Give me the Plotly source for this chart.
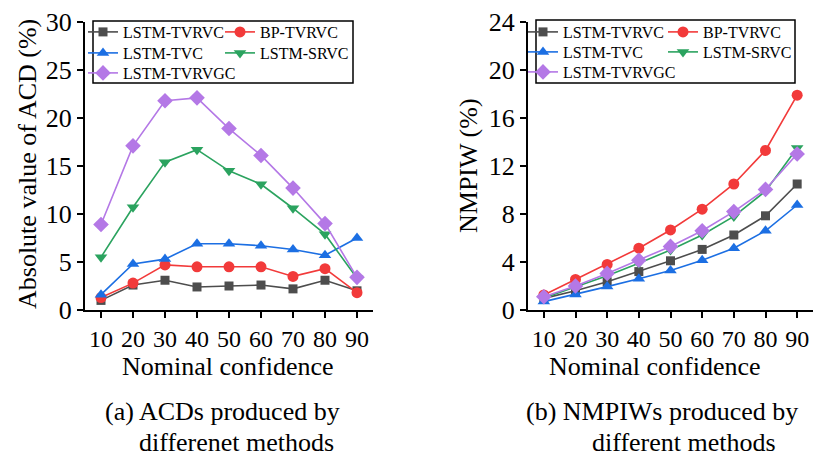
import plotly.graph_objects as go

# ---------------- data ----------------
conf = [10, 20, 30, 40, 50, 60, 70, 80, 90]
names = ["LSTM-TVRVC", "BP-TVRVC", "LSTM-TVC", "LSTM-SRVC", "LSTM-TVRVGC"]

acd_lstm_tvrvc = [1.0, 2.6, 3.1, 2.4, 2.5, 2.6, 2.2, 3.1, 2.0]
acd_bp_tvrvc = [1.3, 2.8, 4.7, 4.5, 4.5, 4.5, 3.5, 4.3, 1.8]
acd_lstm_tvc = [1.6, 4.8, 5.3, 6.9, 6.9, 6.7, 6.3, 5.7, 7.5]
acd_lstm_srvc = [5.5, 10.7, 15.4, 16.7, 14.5, 13.1, 10.6, 7.9, 3.3]
acd_lstm_tvrvgc = [8.9, 17.1, 21.8, 22.1, 18.9, 16.1, 12.7, 9.0, 3.4]

nmpiw_lstm_tvrvc = [0.97, 1.6, 2.35, 3.2, 4.1, 5.05, 6.25, 7.85, 10.5]
nmpiw_bp_tvrvc = [1.25, 2.55, 3.8, 5.15, 6.67, 8.4, 10.5, 13.3, 17.9]
nmpiw_lstm_tvc = [0.7, 1.3, 1.95, 2.6, 3.3, 4.15, 5.15, 6.6, 8.75]
nmpiw_lstm_srvc = [1.0, 1.95, 2.85, 3.9, 5.0, 6.25, 7.8, 9.9, 13.5]
nmpiw_lstm_tvrvgc = [1.1, 2.0, 3.05, 4.15, 5.3, 6.6, 8.2, 10.05, 13.0]

acd_ticks = [0, 5, 10, 15, 20, 25, 30]
nmpiw_ticks = [0, 4, 8, 12, 16, 20, 24]

# ---------------- styles ----------------
colors = ["#4d4d4d", "#f23a3a", "#1c6fe3", "#2ba35f", "#b478e6"]
symbols = ["square", "circle", "triangle-up", "triangle-down", "diamond"]
sizes = [9, 11, 11, 11, 12]
FONT = "Liberation Serif"

W, H = 813, 457
T, B = 22, 147
PH = H - T - B


def px(x):
    return x / W


def py(y):
    return (H - B - y) / PH


# legend slot of each series: (column, row)
slots = [(0, 0), (1, 0), (0, 1), (1, 1), (0, 2)]
left_cols = [83, 220]
right_cols = [523, 663]
rows_left = [32, 53, 73]
rows_right = [32, 52, 72]

fig = go.Figure()

acd_sets = [acd_lstm_tvrvc, acd_bp_tvrvc, acd_lstm_tvc, acd_lstm_srvc, acd_lstm_tvrvgc]
nmpiw_sets = [nmpiw_lstm_tvrvc, nmpiw_bp_tvrvc, nmpiw_lstm_tvc, nmpiw_lstm_srvc, nmpiw_lstm_tvrvgc]

leg_common = dict(bgcolor="rgba(0,0,0,0)", borderwidth=0, font=dict(size=16, family=FONT),
                  xanchor="left", yanchor="middle", orientation="v", tracegroupgap=0)
legends = {}

for i, nm in enumerate(names):
    lname = "legend" if i == 0 else f"legend{i + 1}"
    c, r = slots[i]
    legends[lname] = dict(x=px(left_cols[c]), y=py(rows_left[r]), **leg_common)
    fig.add_trace(go.Scatter(
        x=conf, y=acd_sets[i], name=nm, mode="lines+markers",
        line=dict(color=colors[i], width=1.6),
        marker=dict(symbol=symbols[i], size=sizes[i], color=colors[i], line=dict(width=0)),
        xaxis="x", yaxis="y", legend=lname))
for i, nm in enumerate(names):
    lname = f"legend{i + 6}"
    c, r = slots[i]
    legends[lname] = dict(x=px(right_cols[c]), y=py(rows_right[r]), **leg_common)
    fig.add_trace(go.Scatter(
        x=conf, y=nmpiw_sets[i], name=nm, mode="lines+markers",
        line=dict(color=colors[i], width=1.6),
        marker=dict(symbol=symbols[i], size=sizes[i], color=colors[i], line=dict(width=0)),
        xaxis="x2", yaxis="y2", legend=lname))

axis_common = dict(showline=True, linecolor="black", linewidth=2, ticks="outside",
                   ticklen=6, tickwidth=2, tickcolor="black", showgrid=False,
                   zeroline=False, mirror=False)

fig.update_layout(
    width=W, height=H,
    margin=dict(l=0, r=0, t=T, b=B),
    paper_bgcolor="white", plot_bgcolor="white",
    font=dict(family=FONT, color="black"),
    xaxis=dict(domain=[px(85), px(373)], range=[5, 95], tickvals=conf,
               tickfont=dict(size=24), anchor="y", **axis_common),
    yaxis=dict(domain=[0, 1], range=[0, 30], tickvals=acd_ticks,
               tickfont=dict(size=26), anchor="x", **axis_common),
    xaxis2=dict(domain=[px(528), 1], range=[5, 95], tickvals=conf,
                tickfont=dict(size=24), anchor="y2", **axis_common),
    yaxis2=dict(domain=[0, 1], range=[0, 24], tickvals=nmpiw_ticks,
                tickfont=dict(size=26), anchor="x2", **axis_common),
    showlegend=True,
    **legends,
)

# legend frames
fig.add_shape(type="rect", xref="paper", yref="paper", x0=px(93), x1=px(353),
              y0=py(83), y1=py(21), line=dict(color="black", width=1.5))
fig.add_shape(type="rect", xref="paper", yref="paper", x0=px(536), x1=px(795),
              y0=py(83), y1=py(20), line=dict(color="black", width=1.5))

ann = [
    dict(text="Absolute value of ACD (%)", x=px(27), y=py(164), textangle=-90, size=26),
    dict(text="NMPIW (%)", x=px(468), y=py(166), textangle=-90, size=26),
    dict(text="Nominal confidence", x=px(228), y=py(366), textangle=0, size=26),
    dict(text="Nominal confidence", x=px(655), y=py(366), textangle=0, size=26),
    dict(text="(a) ACDs produced by", x=px(222), y=py(411), textangle=0, size=26),
    dict(text="differenet methods", x=px(236), y=py(442), textangle=0, size=26),
    dict(text="(b) NMPIWs produced by", x=px(662), y=py(411), textangle=0, size=26),
    dict(text="different methods", x=px(684), y=py(442), textangle=0, size=26),
]
for a in ann:
    fig.add_annotation(text=a["text"], x=a["x"], y=a["y"], xref="paper", yref="paper",
                       xanchor="center", yanchor="middle", showarrow=False,
                       textangle=a["textangle"], font=dict(size=a["size"], family=FONT, color="black"))

fig.write_html("out.html")
